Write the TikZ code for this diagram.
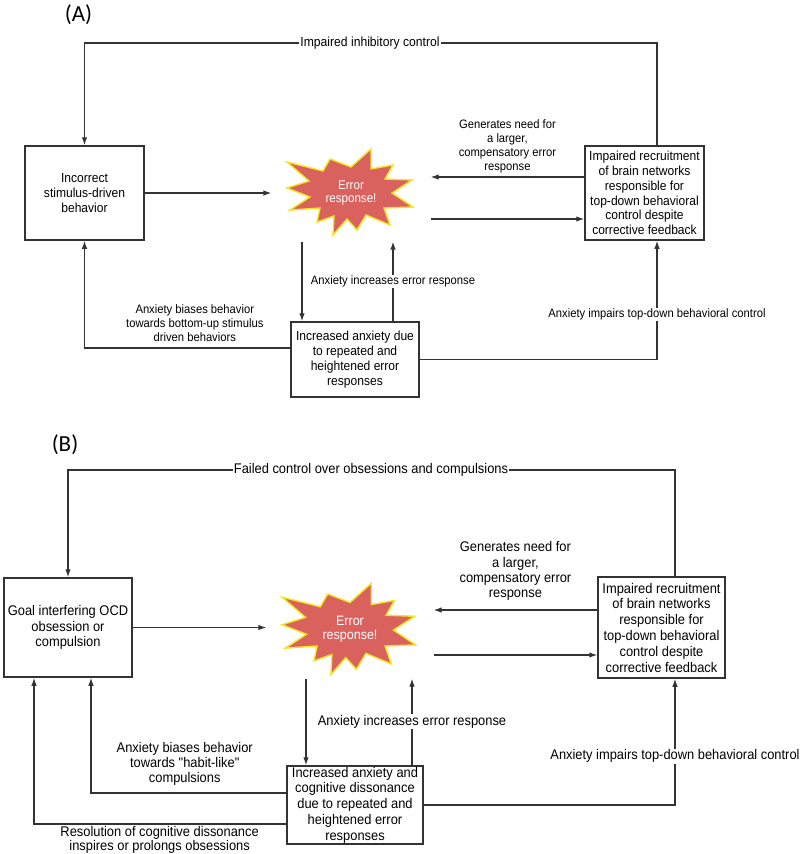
\documentclass[tikz,border=0pt]{standalone}
\usepackage{fontspec}
\setmainfont{Liberation Sans}[FakeStretch=0.92, Ligatures=TeXOff]
\newfontfamily\panelfont{Carlito}
\usepackage{tikz}
\usetikzlibrary{calc, arrows.meta, positioning}
\definecolor{errred}{HTML}{D9625F}
\definecolor{erryellow}{HTML}{F4E41C}
\definecolor{linegray}{HTML}{333333}

% the red burst behind an "Error response!" node
\newcommand{\errburst}[2]{%
  \filldraw[burst, shift={#1}, scale=#2]
    (20,-43) -- (0,-25) -- (-21,-33) -- (-28,-21) -- (-64,-30) -- (-42,-11)
    -- (-64,-4) -- (-41,5) -- (-61,18) -- (-31,16) -- (-34,30) -- (-17,24)
    -- (-18,43) -- (-4,27) -- (6,38) -- (15,23) -- (39,33) -- (33,16)
    -- (62,15) -- (41,1) -- (61,-12) -- (34,-13) -- (42,-27) -- (20,-23) -- cycle;}

\begin{document}
\begin{tikzpicture}[x=1pt, y=-1pt, >={Latex[length=8pt,width=5.5pt]}, line width=1.2pt, draw=linegray]
            % Block styles
            \tikzstyle{block} = [rectangle, draw=linegray, line width=1.5pt, align=center, inner sep=0pt]
            \tikzstyle{hole} = [rectangle, inner sep=0pt, align=center, text=white]
            \tikzstyle{burst} = [fill=errred, draw=erryellow, line width=1.4pt, line join=miter]
            \tikzstyle{lbl} = [align=center, inner sep=1pt]
            \tikzstyle{tag} = [font=\panelfont\fontsize{23}{23}\selectfont]
            \useasboundingbox (0,0) rectangle (800,854);

            % ---------- (A) ----------
            \node[tag] (tag_a) at (78.5,15) {(A)};
            \begin{scope}[every node/.append style={font=\fontsize{13.1}{14.8}\selectfont}]
                \node[block, minimum width=119pt, minimum height=94pt] (inc_a) at (84.5,193) {Incorrect\\stimulus-driven\\behavior};
                \node[block, minimum width=119pt, minimum height=94pt] (imp_a) at (644.5,193) {Impaired recruitment\\of brain networks\\responsible for\\top-down behavioral\\control despite\\corrective feedback};
                \node[block, minimum width=128pt, minimum height=75pt] (anx_a) at (355,359.5) {Increased anxiety due\\to repeated and\\heightened error\\responses};
            \end{scope}
            \errburst{(351,192)}{1}
            \node[hole, minimum width=158pt, minimum height=96pt, font=\fontsize{12.6}{13.5}\selectfont] (err_a) at (351,193) {Error\\response!};
            \coordinate (top_a) at (370,43);
            % Connections
            \begin{scope}[every node/.append style={font=\fontsize{12.2}{14}\selectfont}]
                \draw[->] (inc_a.east) -- (err_a.west);
                \draw[->] ([yshift=16pt]imp_a.west) -- ([yshift=16pt]imp_a.west -| err_a.east)
                    node[lbl, midway, above=2.5pt] {Generates need for\\a larger,\\compensatory error\\response};
                \draw[->] ([yshift=-26pt]imp_a.west -| err_a.east) -- ([yshift=-26pt]imp_a.west);
                \draw[->] ([xshift=-49pt]err_a.south) -- ([xshift=-49pt]err_a.south |- anx_a.north);
                \draw[->] ([xshift=42pt]err_a.south |- anx_a.north) -- ([xshift=42pt]err_a.south)
                    node[lbl, midway, fill=white] {Anxiety increases error response};
                \draw[->] ([yshift=11.5pt]anx_a.west) -| (inc_a.south)
                    node[lbl, pos=.232, above=5pt] {Anxiety biases behavior\\towards bottom-up stimulus\\driven behaviors};
                \draw[->] (anx_a.east) -| ([xshift=12.5pt]imp_a.south)
                    node[lbl, pos=.69, fill=white] {Anxiety impairs top-down behavioral control};
                \draw[->] ([xshift=12.5pt]imp_a.north) |- (top_a) -| (inc_a.north);
                \node[lbl, fill=white, font=\fontsize{13.2}{14}\selectfont] (ctrl_a) at (top_a) {Impaired inhibitory control};
            \end{scope}

            % ---------- (B) ----------
            \node[tag] (tag_b) at (65,444.5) {(B)};
            \begin{scope}[every node/.append style={font=\fontsize{14}{15.8}\selectfont}]
                \node[block, minimum width=128pt, minimum height=99pt] (goal_b) at (68,627.5) {Goal interfering OCD\\obsession or\\compulsion};
                \node[block, minimum width=127pt, minimum height=101pt] (imp_b) at (661.5,627.5) {Impaired recruitment\\of brain networks\\responsible for\\top-down behavioral\\control despite\\corrective feedback};
                \node[block, minimum width=136pt, minimum height=78pt] (anx_b) at (355,805) {Increased anxiety and\\cognitive dissonance\\due to repeated and\\heightened error\\responses};
            \end{scope}
            \errburst{(350,629)}{1.06}
            \node[hole, minimum width=166pt, minimum height=98pt, font=\fontsize{13.6}{14.5}\selectfont] (err_b) at (350,629) {Error\\response!};
            \coordinate (top_b) at (371,470);
            % Connections
            \begin{scope}[every node/.append style={font=\fontsize{14}{15.2}\selectfont}]
                \draw[->] (goal_b.east) -- (goal_b.east -| err_b.west);
                \draw[->] ([yshift=17.5pt]imp_b.west) -- ([yshift=17.5pt]imp_b.west -| err_b.east)
                    node[lbl, midway, above=8pt] {Generates need for\\a larger,\\compensatory error\\response};
                \draw[->] ([yshift=-27.5pt]imp_b.west -| err_b.east) -- ([yshift=-27.5pt]imp_b.west);
                \draw[->] ([xshift=-44pt]err_b.south) -- ([xshift=-44pt]err_b.south |- anx_b.north);
                \draw[->] ([xshift=62pt]err_b.south |- anx_b.north) -- ([xshift=62pt]err_b.south)
                    node[lbl, midway, fill=white] {Anxiety increases error response};
                \draw[->] ([yshift=12pt]anx_b.west) -| ([xshift=23pt]goal_b.south)
                    node[lbl, pos=.26, above=6pt] {Anxiety biases behavior\\towards "habit-like"\\compulsions};
                \draw[->] ([yshift=-19pt]anx_b.west) -| ([xshift=-34pt]goal_b.south)
                    node[lbl, pos=.251, below=0.5pt, font=\fontsize{14}{14.2}\selectfont] {Resolution of cognitive dissonance\\inspires or prolongs obsessions};
                \draw[->] (anx_b.east) -| ([xshift=13.5pt]imp_b.south)
                    node[lbl, pos=.693, fill=white] {Anxiety impairs top-down behavioral control};
                \draw[->] ([xshift=13.5pt]imp_b.north) |- (top_b) -| (goal_b.north);
                \node[lbl, fill=white] (ctrl_b) at (top_b) {Failed control over obsessions and compulsions};
            \end{scope}
        \end{tikzpicture}
\end{document}
